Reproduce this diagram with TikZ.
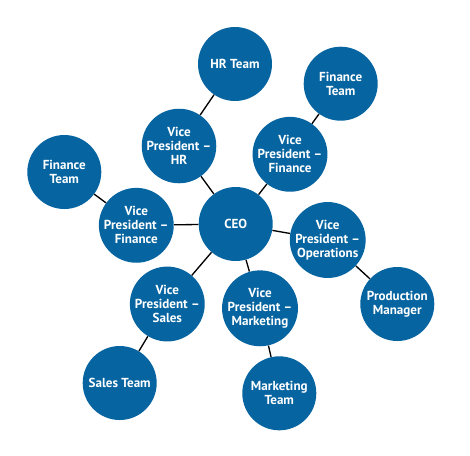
\documentclass[tikz,border=0pt]{standalone}
\usepackage{fontspec}
\setmainfont{PT Sans}
\definecolor{orgblue}{RGB}{6,100,160}
\begin{document}
\begin{tikzpicture}[x=0.75pt,y=0.75pt,yscale=-1,xscale=1,
    orgnode/.style={circle,fill=orgblue,draw=none,minimum size=55.5pt,inner sep=0pt,
      text=white,font=\bfseries\fontsize{9.8}{10.6}\selectfont,align=center},
    orglink/.style={line width=1pt,color=black}]
        \useasboundingbox (0,0) rectangle (470,455);

        %Shape: Circle [CEO]
        \node [orgnode] (ceo) at (235.7,224) {CEO};
        %Shape: Circle [vice presidents]
        \node [orgnode] (vphr) at (179,146) {Vice\\President --\\HR};
        \node [orgnode] (vpfinr) at (290,154.3) {Vice\\President --\\Finance};
        \node [orgnode] (vpfinl) at (136.3,225.3) {Vice\\President --\\Finance};
        \node [orgnode] (vpops) at (327.7,240) {Vice\\President --\\Operations};
        \node [orgnode] (vpsales) at (167.3,304) {Vice\\President --\\Sales};
        \node [orgnode] (vpmkt) at (260,308.3) {Vice\\President --\\Marketing};
        %Shape: Circle [teams]
        \node [orgnode] (hrteam) at (235,64) {HR Team};
        \node [orgnode] (finteamr) at (340.7,83.7) {Finance\\Team};
        \node [orgnode] (finteaml) at (64.3,172) {Finance\\Team};
        \node [orgnode] (prodmgr) at (397.3,304) {Production\\Manager};
        \node [orgnode] (salesteam) at (119.7,383) {Sales Team};
        \node [orgnode] (mktteam) at (279.3,393.3) {Marketing\\Team};

        %Straight Lines
        \foreach \a/\b in {ceo/vphr,ceo/vpfinr,ceo/vpfinl,ceo/vpops,ceo/vpsales,ceo/vpmkt,
                           vphr/hrteam,vpfinr/finteamr,vpfinl/finteaml,vpops/prodmgr,
                           vpsales/salesteam,vpmkt/mktteam}
          \draw [orglink] (\a) -- (\b);
\end{tikzpicture}
\end{document}
